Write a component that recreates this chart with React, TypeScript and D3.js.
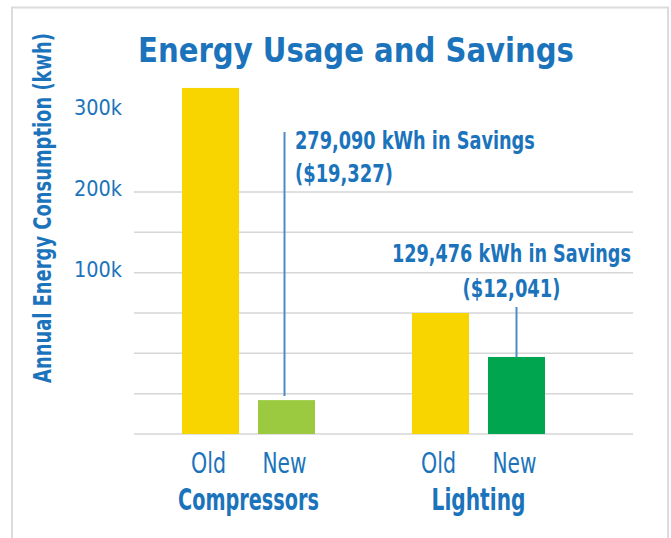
import React, { useLayoutEffect, useRef } from "react";
import * as d3 from "d3";

// chart data
const groups = ["Compressors", "Lighting"];
const conditions = ["Old", "New"];
const oldUsage = [429000, 150000];
const newUsage = [42000, 95500];
const savingsKwh = ["279,090 kWh in Savings", "129,476 kWh in Savings"];
const savingsCost = ["($19,327)", "($12,041)"];
const tickValues = [100000, 200000, 300000];

const width = 671;
const height = 538;
const blue = "#1b74bb";
const narrow = "'Liberation Sans Narrow', 'DejaVu Sans Condensed', 'Roboto', sans-serif";
const capRatio = 0.73;

// the source prints its value labels two gridlines above the line they name
const labelShift = 100000;

const App: React.FC = () => {
  const svgRef = useRef<SVGSVGElement>(null);

  // fit each text to the width it has in the source, then stretch it back to the source's cap height
  useLayoutEffect(() => {
    if (!svgRef.current) return;
    d3.select(svgRef.current)
      .selectAll<SVGTextElement, unknown>("text[data-w]")
      .each(function () {
        const maxW = Number(this.getAttribute("data-w"));
        let fs = Number(this.getAttribute("font-size"));
        const len = this.getComputedTextLength();
        if (len > maxW) {
          fs = (fs * maxW) / len;
          this.setAttribute("font-size", String(fs));
        }
        const cap = Number(this.getAttribute("data-cap"));
        if (!cap) return;
        const k = Math.min(1.5, Math.max(1, cap / (fs * capRatio)));
        const base = this.getAttribute("transform");
        if (base) {
          this.setAttribute("transform", `${base} scale(1,${k})`);
        } else {
          const x = Number(this.getAttribute("x"));
          const y = Number(this.getAttribute("y"));
          this.setAttribute("transform", `translate(${x},${y}) scale(1,${k}) translate(${-x},${-y})`);
        }
      });
  }, []);

  const y = d3.scaleLinear().domain([0, 300000]).range([434, 192]);
  const gridValues = y.ticks(6);

  const x0 = d3.scaleBand<string>().domain(groups).range([182, 545]).paddingInner(0.4217).paddingOuter(0);
  const x1 = d3.scaleBand<string>().domain(conditions).range([0, x0.bandwidth()]).paddingInner(0.25);

  const barColor = (g: number, c: string) =>
    c === "Old" ? "#f9d500" : g === 0 ? "#9bc940" : "#00a54f";

  const value = (g: number, c: string) => (c === "Old" ? oldUsage[g] : newUsage[g]);

  const newCenter = (g: number) => (x0(groups[g]) || 0) + (x1("New") || 0) + x1.bandwidth() / 2;

  return (
    <svg
      ref={svgRef}
      width={width}
      height={height}
      style={{ position: "absolute", left: 0, top: 0, background: "#fff" }}
    >
      <rect x={12} y={7.5} width={656} height={540} fill="#fff" stroke="#dcdcdc" strokeWidth={2} />

      <text x={356} y={62} textAnchor="middle" fill={blue} fontFamily={narrow} fontWeight="bold"
        fontSize={34} data-w={436} data-cap={25}>
        Energy Usage and Savings
      </text>

      <text transform="translate(51,208) rotate(-90)" textAnchor="middle" fill={blue} fontFamily={narrow}
        fontWeight="bold" fontSize={24} data-w={350} data-cap={18}>
        Annual Energy Consumption (kwh)
      </text>

      {/* gridlines */}
      {gridValues.map((v) => (
        <line key={v} x1={134} x2={633} y1={y(v)} y2={y(v)} stroke="#d6d6d6" strokeWidth={1.5} />
      ))}

      {/* value labels */}
      {tickValues.map((v) => (
        <text key={v} x={122} y={y(v + labelShift) + 4} textAnchor="end" fill={blue} fontFamily={narrow}
          fontSize={22} data-w={48} data-cap={16}>
          {`${v / 1000}k`}
        </text>
      ))}

      {/* bars */}
      {groups.map((g, gi) => (
        <g key={g} transform={`translate(${x0(g)},0)`}>
          {conditions.map((c) => (
            <rect key={c} x={x1(c)} y={y(value(gi, c))} width={x1.bandwidth()}
              height={y(0) - y(value(gi, c))} fill={barColor(gi, c)} />
          ))}
          {conditions.map((c) => (
            <text key={c} x={(x1(c) || 0) + x1.bandwidth() / 2 - 2} y={473} textAnchor="middle" fill={blue}
              fontFamily={narrow} fontSize={29} data-w={c === "Old" ? 35 : 44} data-cap={21}>
              {c}
            </text>
          ))}
          <text x={x0.bandwidth() / 2} y={510} textAnchor="middle" fill={blue} fontFamily={narrow}
            fontWeight="bold" fontSize={29} data-w={gi === 0 ? 141 : 94} data-cap={22}>
            {g}
          </text>
        </g>
      ))}

      {/* savings callouts */}
      <line x1={newCenter(0) - 2} x2={newCenter(0) - 2} y1={132} y2={y(newUsage[0]) - 4} stroke="#4a8dc8" strokeWidth={2} />
      <text x={295} y={149} fill={blue} fontFamily={narrow} fontWeight="bold" fontSize={25} data-w={240} data-cap={18}>
        {savingsKwh[0]}
      </text>
      <text x={295} y={182} fill={blue} fontFamily={narrow} fontWeight="bold" fontSize={25} data-w={98} data-cap={18}>
        {savingsCost[0]}
      </text>

      <line x1={newCenter(1)} x2={newCenter(1)} y1={307} y2={y(newUsage[1])} stroke="#4a8dc8" strokeWidth={2} />
      <text x={newCenter(1) - 5} y={262} textAnchor="middle" fill={blue} fontFamily={narrow} fontWeight="bold"
        fontSize={25} data-w={239} data-cap={18}>
        {savingsKwh[1]}
      </text>
      <text x={newCenter(1) - 5} y={297} textAnchor="middle" fill={blue} fontFamily={narrow} fontWeight="bold"
        fontSize={25} data-w={98} data-cap={18}>
        {savingsCost[1]}
      </text>
    </svg>
  );
};

export default App;
